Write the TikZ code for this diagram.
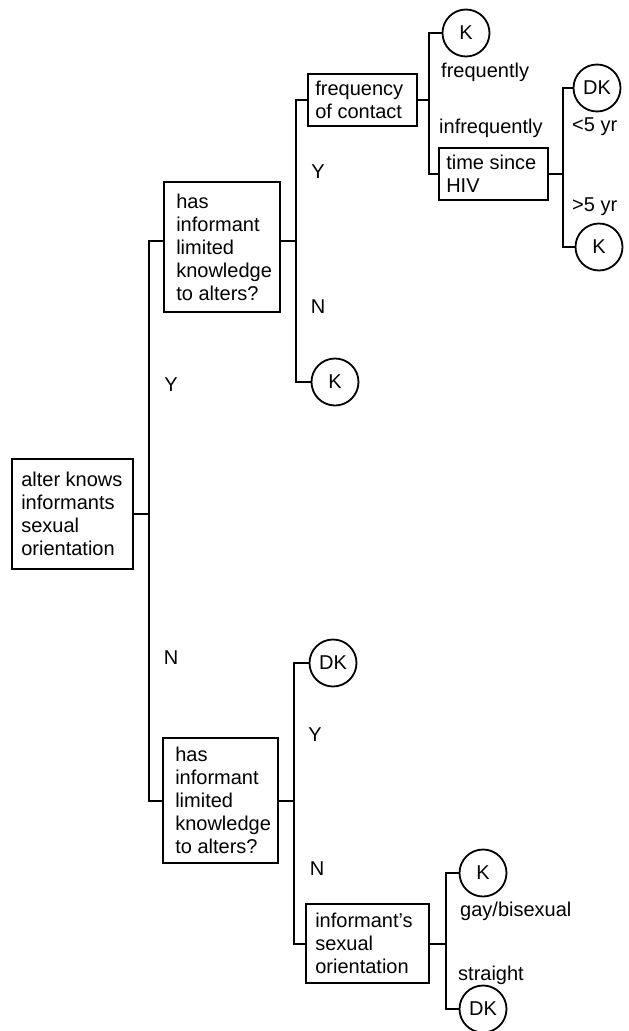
\documentclass[tikz,border=0pt]{standalone}
\usepackage{fontspec}
\setmainfont{Liberation Sans}
\newcommand\fs{\fontsize{20}{23}\selectfont}
\tikzset{
  box/.style={draw, line width=1.8pt, inner sep=0pt, rectangle},
  txt/.style={align=left, inner sep=0pt, font=\fs, anchor=west},
  leaf/.style={draw, circle, line width=1.8pt, minimum size=47pt, inner sep=0pt, font=\fs},
  conn/.style={line width=2pt},
  lbl/.style={inner sep=0pt, font=\fs},
}
\begin{document}
\begin{tikzpicture}[x=1pt,y=-1pt]
\useasboundingbox (0,0) rectangle (629,1031);
% decision boxes
\node[box, minimum width=121pt, minimum height=110pt] (root) at (72.5,514) {};
\node[txt] (root-t) at ([xshift=10pt]root.west) {alter~knows\\informants\\sexual\\orientation};
\node[box, minimum width=116pt, minimum height=130pt] (ub) at (222,247) {};
\node[txt] (ub-t) at ([xshift=13pt]ub.west) {has\\informant\\limited\\knowledge\\to~alters?};
\node[box, minimum width=115pt, minimum height=125pt] (lb) at (220.5,800.5) {};
\node[txt] (lb-t) at ([xshift=13pt]lb.west) {has\\informant\\limited\\knowledge\\to~alters?};
\node[box, minimum width=109pt, minimum height=52pt] (freq) at (362.5,100) {};
\node[txt] (freq-t) at ([xshift=8pt]freq.west) {frequency\\of~contact};
\node[box, minimum width=109pt, minimum height=52pt] (time) at (493.5,174) {};
\node[txt] (time-t) at ([xshift=8pt]time.west) {time~since\\HIV};
\node[box, minimum width=123pt, minimum height=79pt] (inf) at (367.5,943.5) {};
\node[txt] (inf-t) at ([xshift=10pt]inf.west) {informant's\\sexual\\orientation};
% leaves
\node[leaf] (k1) at (466,33) {K};
\node[leaf] (dk1) at (597,88) {DK};
\node[leaf] (k2) at (599,247) {K};
\node[leaf] (k3) at (335,382) {K};
\node[leaf] (dk2) at (333,663) {DK};
\node[leaf] (k4) at (483,873) {K};
\node[leaf] (dk3) at (483,1009) {DK};
% connectors
\draw[conn] (root.east) -- ++(15,0) coordinate (j0) |- ([yshift=6pt]ub.west);
\draw[conn] (j0) |- (lb.west);
\draw[conn] ([yshift=6pt]ub.east) -- ++(15,0) coordinate (j1) |- (freq.west);
\draw[conn] (j1) |- (k3.west);
\draw[conn] (freq.east) -- ++(11,0) coordinate (j2) |- (k1.west);
\draw[conn] (j2) |- (time.west);
\draw[conn] (time.east) -- ++(14,0) coordinate (j3) |- (dk1.west);
\draw[conn] (j3) |- (k2.west);
\draw[conn] (lb.east) -- ++(15,0) coordinate (j4) |- (dk2.west);
\draw[conn] (j4) |- (inf.west);
\draw[conn] (inf.east) -- ++(16,0) coordinate (j5) |- (k4.west);
\draw[conn] (j5) |- (dk3.west);
% branch labels
\node[lbl] (y1) at (171,385) {Y};
\node[lbl] (n1) at (171,658) {N};
\node[lbl] (y2) at (318,172) {Y};
\node[lbl] (n2) at (318,307) {N};
\node[lbl] (y3) at (315,735) {Y};
\node[lbl] (n3) at (317,869) {N};
\node[lbl, anchor=west] (l-freq) at (441,72) {frequently};
\node[lbl, anchor=west] (l-infreq) at (439,128) {infrequently};
\node[lbl, anchor=west] (l-lt5) at (572,127) {<5 yr};
\node[lbl, anchor=west] (l-gt5) at (572,207) {>5 yr};
\node[lbl, anchor=west] (l-gay) at (460,911) {gay/bisexual};
\node[lbl, anchor=west] (l-str) at (458,975) {straight};
\end{tikzpicture}
\end{document}
